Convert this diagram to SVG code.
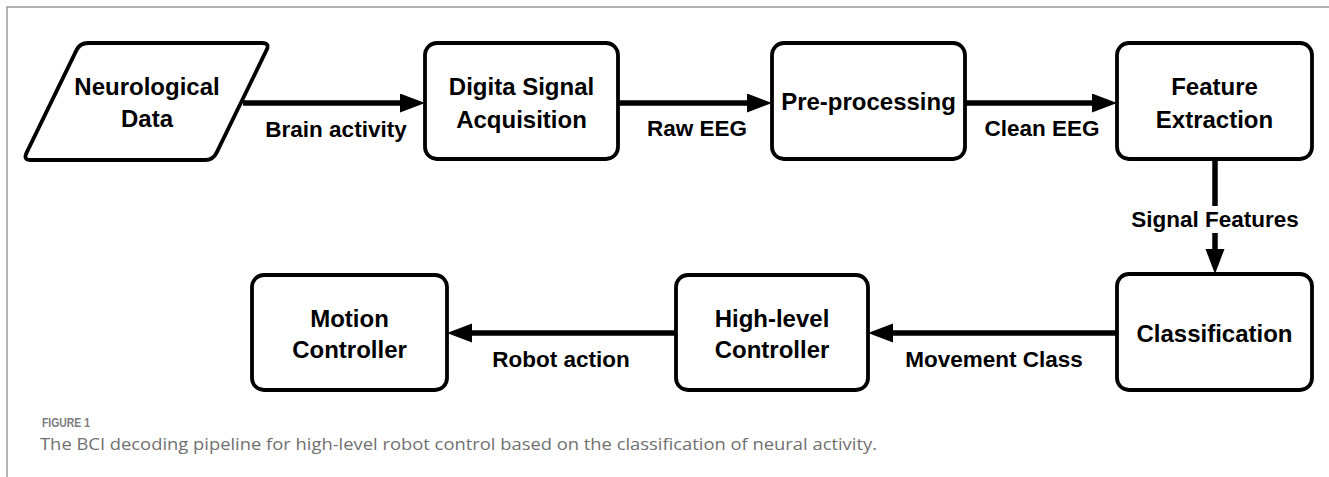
<svg xmlns="http://www.w3.org/2000/svg" width="1329" height="477" viewBox="0 0 1329 477">
  <style>
    .node { fill: #ffffff; stroke: #000000; stroke-width: 3.8; stroke-linejoin: round; }
    .nt { font-family: "Liberation Sans", Arial, sans-serif; font-weight: bold; font-size: 24px; fill: #000000; text-anchor: middle; }
    .lbl { font-family: "Liberation Sans", Arial, sans-serif; font-weight: bold; font-size: 22.5px; fill: #000000; text-anchor: middle; }
    .conn { fill: none; stroke: #000000; stroke-width: 5.5; }
    .frame { fill: none; stroke: #9a9a9a; stroke-width: 1.5; }
    .figlbl { font-family: "Liberation Sans", Arial, sans-serif; font-weight: bold; font-size: 13px; fill: #7c7c7c; }
    .cap { font-family: "Open Sans", "Liberation Sans", sans-serif; font-size: 16px; fill: #707070; }
  </style>
  <defs>
    <marker id="arrow" markerUnits="userSpaceOnUse" markerWidth="26" markerHeight="20" refX="0" refY="9.5" orient="auto">
      <path d="M0,0 L25,9.5 L0,19 z" fill="#000000"/>
    </marker>
  </defs>
  <rect x="0" y="0" width="1329" height="477" fill="#ffffff"/>
  <path class="frame" d="M7,477 V7 H1329"/>

  <g id="connectors">
    <path class="conn" d="M243,103 H400" marker-end="url(#arrow)"/>
    <path class="conn" d="M618,103 H747" marker-end="url(#arrow)"/>
    <path class="conn" d="M965,103 H1092" marker-end="url(#arrow)"/>
    <path class="conn" d="M1215,159 V249" marker-end="url(#arrow)"/>
    <path class="conn" d="M1117,333 H893" marker-end="url(#arrow)"/>
    <path class="conn" d="M676,333 H472" marker-end="url(#arrow)"/>
    <text class="lbl" x="336" y="137">Brain activity</text>
    <text class="lbl" x="697" y="136">Raw EEG</text>
    <text class="lbl" x="1042" y="136">Clean EEG</text>
    <rect x="1128" y="206" width="175" height="27" fill="#ffffff"/>
    <text class="lbl" x="1215" y="227">Signal Features</text>
    <text class="lbl" x="994" y="367">Movement Class</text>
    <text class="lbl" x="561" y="367">Robot action</text>
  </g>

  <g id="node-neurological-data">
    <path class="node" d="M88,43 H262 Q270,43 266.5,50.2 L216.5,152.8 Q213,160 205,160 H31 Q23,160 26.5,152.8 L76.5,50.2 Q80,43 88,43 Z"/>
    <text class="nt" x="147" y="95">Neurological</text>
    <text class="nt" x="147" y="127">Data</text>
  </g>

  <g id="node-digital-signal-acquisition">
    <rect class="node" x="425" y="43" width="193" height="116" rx="12"/>
    <text class="nt" x="521.5" y="95">Digita Signal</text>
    <text class="nt" x="521.5" y="128">Acquisition</text>
  </g>

  <g id="node-pre-processing">
    <rect class="node" x="772" y="43" width="193" height="116" rx="12"/>
    <text class="nt" x="868.5" y="110">Pre-processing</text>
  </g>

  <g id="node-feature-extraction">
    <rect class="node" x="1117" y="43" width="195" height="116" rx="12"/>
    <text class="nt" x="1214.5" y="95">Feature</text>
    <text class="nt" x="1214.5" y="128">Extraction</text>
  </g>

  <g id="node-classification">
    <rect class="node" x="1117" y="274" width="195" height="116" rx="12"/>
    <text class="nt" x="1214.5" y="342">Classification</text>
  </g>

  <g id="node-high-level-controller">
    <rect class="node" x="676" y="275" width="192" height="115" rx="12"/>
    <text class="nt" x="772" y="327">High-level</text>
    <text class="nt" x="772" y="358">Controller</text>
  </g>

  <g id="node-motion-controller">
    <rect class="node" x="252" y="275" width="195" height="115" rx="12"/>
    <text class="nt" x="349.5" y="327">Motion</text>
    <text class="nt" x="349.5" y="358">Controller</text>
  </g>

  <g id="caption">
    <text class="figlbl" x="42" y="427" textLength="48" lengthAdjust="spacingAndGlyphs">FIGURE 1</text>
    <text class="cap" x="40" y="450" textLength="837" lengthAdjust="spacingAndGlyphs">The BCI decoding pipeline for high-level robot control based on the classification of neural activity.</text>
  </g>
</svg>
